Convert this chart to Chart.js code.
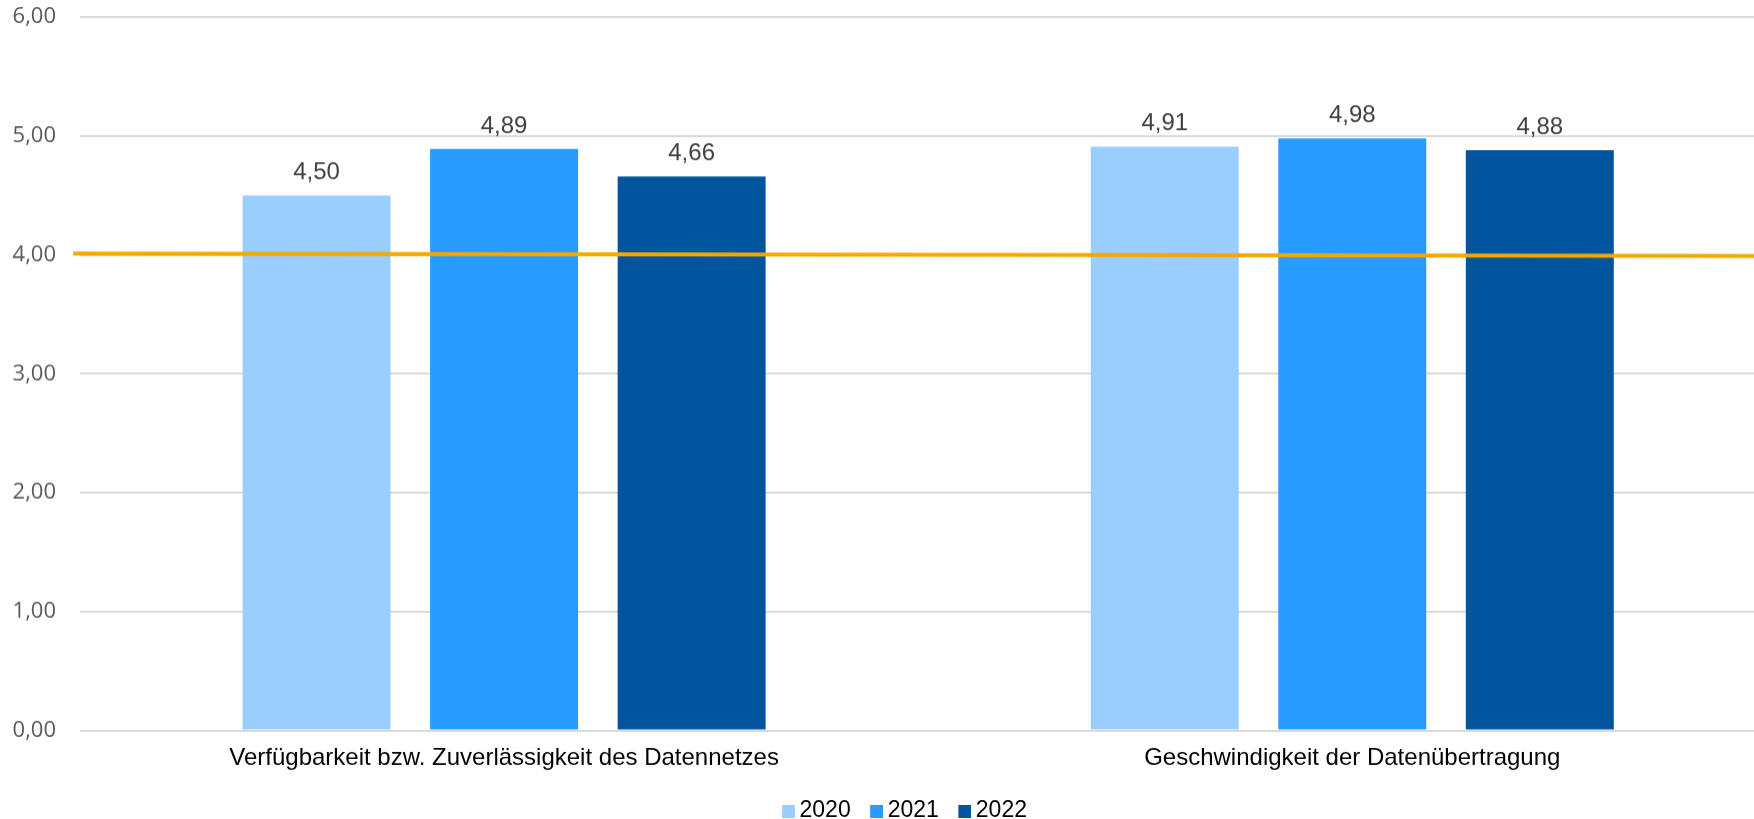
<!DOCTYPE html>
<html lang="de">
<head>
<meta charset="utf-8">
<title>Datennetz Bewertung</title>
<script src="https://cdn.jsdelivr.net/npm/chart.js@4/dist/chart.umd.min.js"></script>
<style>
    html, body { margin: 0; padding: 0; background: #fff; overflow: hidden; }
    /* the plot runs on past the right edge of the window */
    #wrap { width: 1814px; height: 831.5px; position: relative; }
</style>
</head>
<body>
<div id="wrap"><canvas id="chart"></canvas></div>
<script>
// category positions on the x axis and their labels
const categories = [
    "Verfügbarkeit bzw. Zuverlässigkeit des Datennetzes",
    "Geschwindigkeit der Datenübertragung",
];
const categoryPos = [0, 1];

const years = ["2020", "2021", "2022"];
const values2020 = [4.5, 4.91];
const values2021 = [4.89, 4.98];
const values2022 = [4.66, 4.88];

// orange reference line, runs across the whole plot
const refLineX = [-0.508, 1.542];
const refLineY = [4.01, 3.99];

const yTicks = [0, 1, 2, 3, 4, 5, 6];

const colors = ["#9ACEFF", "#279BFF", "#00559E"];

const fmt = (v) => v.toFixed(2).replace(".", ",");

const toPoints = (xs, ys) => xs.map((x, i) => ({ x, y: ys[i] }));

// small square used as legend marker, sits close to its text
const swatch = (color) => {
    const c = document.createElement("canvas");
    c.width = 15;
    c.height = 13;
    const g = c.getContext("2d");
    g.fillStyle = color;
    g.fillRect(2, 0, 13, 13);
    return c;
};

// prints the value above each bar
const valueLabels = {
    id: "valueLabels",
    afterDatasetsDraw(chart) {
        const { ctx } = chart;
        ctx.save();
        ctx.font = "24px 'Liberation Sans', Arial, sans-serif";
        ctx.fillStyle = "#404040";
        ctx.textAlign = "center";
        ctx.textBaseline = "alphabetic";
        chart.data.datasets.forEach((ds, i) => {
            if (ds.type === "line") return;
            const meta = chart.getDatasetMeta(i);
            meta.data.forEach((bar, j) => {
                ctx.fillText(fmt(ds.data[j].y), bar.x, bar.y - 16);
            });
        });
        ctx.restore();
    },
};

Chart.defaults.font.family = "'Liberation Sans', Arial, sans-serif";

new Chart(document.getElementById("chart"), {
    type: "bar",
    data: {
        datasets: [
            { label: years[0], data: toPoints(categoryPos, values2020), backgroundColor: colors[0], borderWidth: 0 },
            { label: years[1], data: toPoints(categoryPos, values2021), backgroundColor: colors[1], borderWidth: 0 },
            { label: years[2], data: toPoints(categoryPos, values2022), backgroundColor: colors[2], borderWidth: 0 },
            {
                type: "line",
                label: "Referenz",
                data: toPoints(refLineX, refLineY),
                borderColor: "#F5A800",
                borderWidth: 4,
                pointRadius: 0,
                fill: false,
                clip: false,
                order: -1,
            },
        ],
    },
    options: {
        responsive: true,
        maintainAspectRatio: false,
        animation: false,
        layout: { padding: { top: 17, left: 0, right: 0, bottom: 0 } },
        datasets: {
            bar: { categoryPercentage: 0.6633, barPercentage: 0.789 },
        },
        plugins: {
            tooltip: { enabled: false },
            legend: {
                position: "bottom",
                labels: {
                    usePointStyle: true,
                    boxWidth: 1,
                    boxHeight: 13,
                    padding: 24.5,
                    color: "#000",
                    font: { size: 23 },
                    generateLabels: (chart) =>
                        Chart.defaults.plugins.legend.labels.generateLabels(chart)
                            .filter((item) => item.datasetIndex < 3)
                            .map((item) => ({ ...item, pointStyle: swatch(colors[item.datasetIndex]) })),
                },
            },
        },
        scales: {
            x: {
                type: "linear",
                min: -0.5,
                max: 1.542,
                offset: false,
                grid: { display: false, drawTicks: false },
                border: { display: false },
                afterBuildTicks: (axis) => {
                    axis.ticks = categoryPos.map((v) => ({ value: v }));
                },
                afterFit: (axis) => {
                    axis.height = 44.5;
                    axis.paddingLeft = 0;
                    axis.paddingRight = 0;
                },
                ticks: {
                    autoSkip: false,
                    maxRotation: 0,
                    padding: 13,
                    color: "#000",
                    font: { size: 24 },
                    callback: (value) => categories[value] ?? "",
                },
            },
            y: {
                min: 0,
                max: 6,
                afterBuildTicks: (axis) => {
                    axis.ticks = yTicks.map((v) => ({ value: v }));
                },
                afterFit: (axis) => {
                    axis.width = 80;
                    axis.paddingTop = 0;
                    axis.paddingBottom = 0;
                },
                grid: { color: "#D9D9D9", lineWidth: 2, drawTicks: false },
                border: { display: false },
                ticks: {
                    padding: 24,
                    color: "#595959",
                    font: { family: "'Open Sans', sans-serif", size: 22 },
                    callback: (value) => fmt(value),
                },
            },
        },
    },
    plugins: [valueLabels],
});
</script>
</body>
</html>
